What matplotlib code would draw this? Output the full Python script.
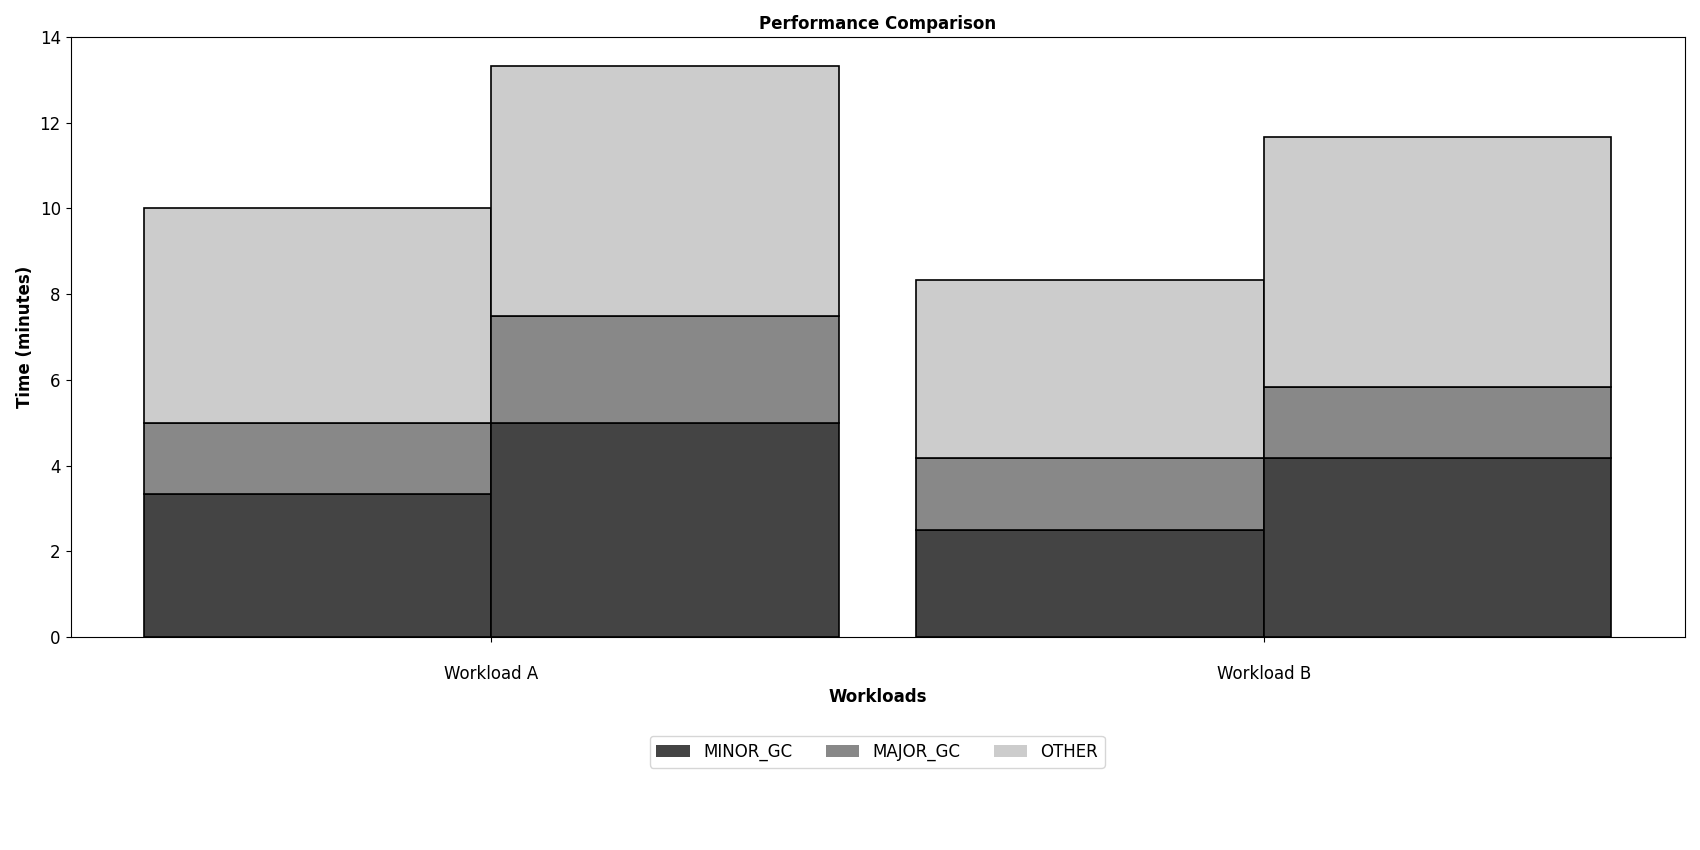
import numpy as np
import matplotlib
matplotlib.use('Agg')
import matplotlib.pyplot as plt
from matplotlib.patches import Patch

workloads = ['Workload A', 'Workload B']
components = ['MINOR_GC', 'MAJOR_GC', 'OTHER']
colors = ['#444444', '#888888', '#cccccc']

# minutes, two runs per workload (left bar, right bar)
minor_gc = [[3.33, 5.0], [2.5, 4.17]]
major_gc = [[1.67, 2.5], [1.67, 1.67]]
other = [[5.0, 5.83], [4.17, 5.83]]

fig, ax = plt.subplots(figsize=(17, 8.5), dpi=100)

x = np.arange(len(workloads))
width = 0.45
offsets = [-width / 2, width / 2]

for i, off in enumerate(offsets):
    bottom = np.zeros(len(workloads))
    for vals, c in zip([minor_gc, major_gc, other], colors):
        v = np.array([vals[w][i] for w in range(len(workloads))])
        ax.bar(x + off, v, width, bottom=bottom, color=c,
               edgecolor='black', linewidth=1.2)
        bottom += v

ax.set_xticks(x)
ax.set_xticklabels(workloads, fontsize=12)
ax.tick_params(axis='y', labelsize=12)
ax.tick_params(axis='x', pad=16.5)
ax.set_ylim(0, 14)
ax.set_xlabel('Workloads', fontsize=12, fontweight='bold')
ax.set_ylabel('Time (minutes)', fontsize=12, fontweight='bold')
ax.set_title('Performance Comparison', fontsize=12, fontweight='bold')

handles = [Patch(facecolor=c, label=n) for n, c in zip(components, colors)]
fig.legend(handles=handles, loc='center', bbox_to_anchor=(0.516, 0.1155),
           ncol=3, fontsize=12)

fig.subplots_adjust(left=0.0415, right=0.991, top=0.9565, bottom=0.2506)
fig.savefig('out.png')
